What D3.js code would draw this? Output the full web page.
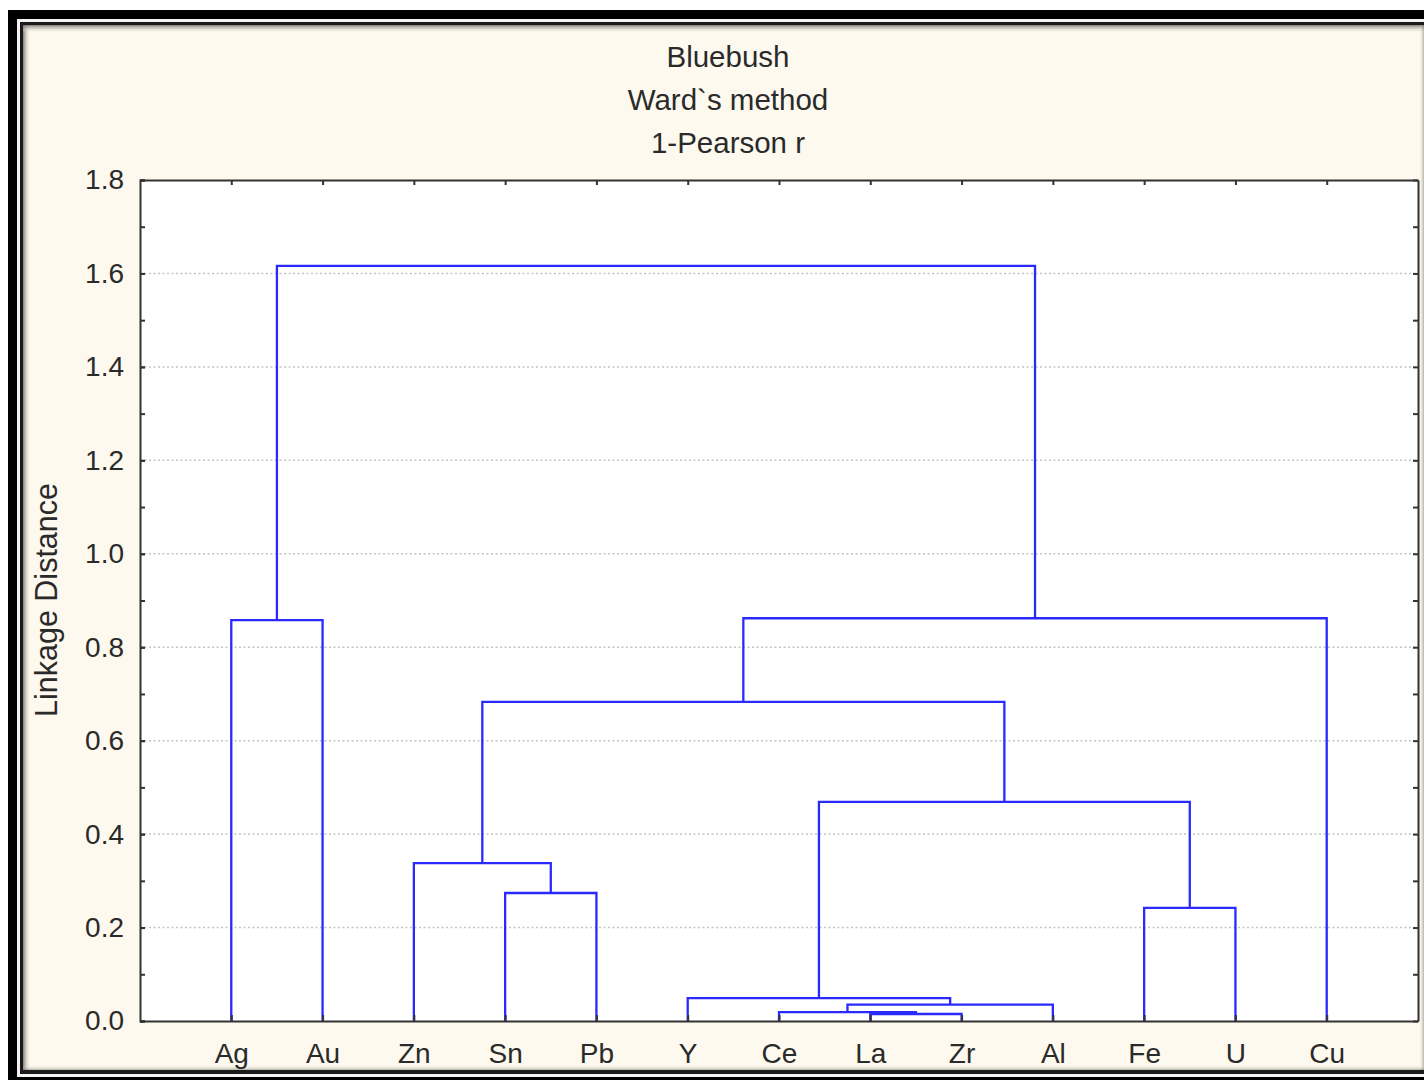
<!DOCTYPE html>
<html>
<head>
<meta charset="utf-8">
<script src="https://cdn.jsdelivr.net/npm/d3@7"></script>
<style>
  html, body { margin: 0; padding: 0; background: #ffffff; }
  svg { display: block; }
  text { font-family: "Liberation Sans", Arial, sans-serif; fill: #2a2a2a; }
</style>
</head>
<body>
<svg id="chart" width="1424" height="1080"></svg>
<script>
// Leaves of the tree, in display order
const leaves = ["Ag", "Au", "Zn", "Sn", "Pb", "Y", "Ce", "La", "Zr", "Al", "Fe", "U", "Cu"];

// Agglomeration steps: [left node, right node, linkage distance].
// Indices 0..12 are leaves; each step creates node 13, 14, ... in turn.
const mergeLeft   = [7, 6, 14, 5, 10, 3, 2, 16, 19, 0, 21, 22];
const mergeRight  = [8, 13, 9, 15, 11, 4, 18, 17, 20, 1, 12, 23];
const mergeHeight = [0.015, 0.019, 0.035, 0.049, 0.242, 0.274, 0.338, 0.469, 0.683, 0.858, 0.862, 1.616];

const titleLines = ["Bluebush", "Ward`s method", "1-Pearson r"];
const yTicks = [0.0, 0.2, 0.4, 0.6, 0.8, 1.0, 1.2, 1.4, 1.6, 1.8];
const yMinorTicks = d3.range(0, 19).map(i => i / 10);
const yLabel = "Linkage Distance";

const W = 1424, H = 1080;
const plot = { left: 140, right: 1418, top: 180, bottom: 1021 };

const svg = d3.select("#chart");
const defs = svg.append("defs");

// ---- window frame -------------------------------------------------------
svg.append("rect").attr("x", 8).attr("y", 10).attr("width", W + 20).attr("height", H + 20)
  .attr("fill", "#000");
svg.append("rect").attr("x", 17).attr("y", 19).attr("width", W).attr("height", 1058)
  .attr("fill", "#f2f2f2");
svg.append("rect").attr("x", 20).attr("y", 22).attr("width", W).attr("height", 1052)
  .attr("fill", "#1a1a1a");
const cream = "#fdf9ee";
svg.append("rect").attr("x", 23).attr("y", 25).attr("width", W).attr("height", 1045)
  .attr("fill", cream);

// soft inset shadow along the panel edges
function shadowGrad(id, x1, y1, x2, y2, op) {
  const g = defs.append("linearGradient").attr("id", id)
    .attr("x1", x1).attr("y1", y1).attr("x2", x2).attr("y2", y2);
  g.append("stop").attr("offset", 0).attr("stop-color", "#6a6a66").attr("stop-opacity", op);
  g.append("stop").attr("offset", 1).attr("stop-color", cream).attr("stop-opacity", 0);
}
shadowGrad("shL", 0, 0, 1, 0, 0.85);
shadowGrad("shT", 0, 0, 0, 1, 0.85);
shadowGrad("shR", 1, 0, 0, 0, 0.5);
shadowGrad("shB", 0, 1, 0, 0, 0.5);
svg.append("rect").attr("x", 23).attr("y", 25).attr("width", 8).attr("height", 1045).attr("fill", "url(#shL)");
svg.append("rect").attr("x", 23).attr("y", 25).attr("width", W).attr("height", 8).attr("fill", "url(#shT)");
svg.append("rect").attr("x", 1419).attr("y", 25).attr("width", 5).attr("height", 1045).attr("fill", "url(#shR)");
svg.append("rect").attr("x", 23).attr("y", 1065).attr("width", W).attr("height", 5).attr("fill", "url(#shB)");

// ---- scales -------------------------------------------------------------
const x = d3.scalePoint().domain(leaves).range([plot.left, plot.right]).padding(1);
const y = d3.scaleLinear().domain([0, 1.8]).range([plot.bottom, plot.top]);

// plot background
svg.append("rect")
  .attr("x", plot.left).attr("y", plot.top)
  .attr("width", plot.right - plot.left).attr("height", plot.bottom - plot.top)
  .attr("fill", "#ffffff");

// dotted grid lines
svg.append("g").selectAll("line")
  .data(yTicks.filter(v => v > 0 && v < 1.8))
  .join("line")
  .attr("x1", plot.left).attr("x2", plot.right)
  .attr("y1", d => y(d)).attr("y2", d => y(d))
  .attr("stroke", "#c4c4c4").attr("stroke-width", 1.5)
  .attr("stroke-dasharray", "2,2.5");

// ---- dendrogram ---------------------------------------------------------
const nodes = leaves.map(name => ({ x: x(name), h: 0 }));
const links = [];
mergeHeight.forEach((h, i) => {
  const a = nodes[mergeLeft[i]], b = nodes[mergeRight[i]];
  links.push({ a, b, h });
  nodes.push({ x: (a.x + b.x) / 2, h });
});

svg.append("g")
  .selectAll("path")
  .data(links)
  .join("path")
  .attr("d", d =>
    `M${d.a.x},${y(d.a.h)}V${y(d.h)}H${d.b.x}V${y(d.b.h)}`)
  .attr("fill", "none")
  .attr("stroke", "#2a2aff")
  .attr("stroke-width", 2.3)
  .attr("stroke-linejoin", "miter");

// ---- axes ---------------------------------------------------------------
const tickFmt = d3.format(".1f");

// left axis: labels at major ticks, small inward ticks every 0.1
svg.append("g").attr("transform", `translate(${plot.left},0)`)
  .call(d3.axisLeft(y).tickValues(yTicks).tickFormat(tickFmt).tickSize(-5).tickPadding(16));
svg.append("g").attr("transform", `translate(${plot.left},0)`)
  .call(d3.axisLeft(y).tickValues(yMinorTicks).tickFormat("").tickSize(-5).tickSizeOuter(0))
  .call(g => g.select(".domain").remove());

// right axis: inward ticks only
svg.append("g").attr("transform", `translate(${plot.right},0)`)
  .call(d3.axisRight(y).tickValues(yMinorTicks).tickFormat("").tickSize(-5).tickSizeOuter(0));

// bottom axis with element labels, ticks pointing up
const bottomAxis = svg.append("g").attr("transform", `translate(0,${plot.bottom})`)
  .call(d3.axisBottom(x).tickSize(-6).tickSizeOuter(0).tickPadding(22));

// top axis: inward ticks only
svg.append("g").attr("transform", `translate(0,${plot.top})`)
  .call(d3.axisTop(x).tickFormat("").tickSize(-5).tickSizeOuter(0));

svg.selectAll(".domain").attr("stroke", "#333").attr("stroke-width", 2);
svg.selectAll(".tick line").attr("stroke", "#333").attr("stroke-width", 2);
svg.selectAll(".tick text")
  .style("font-family", '"Liberation Sans", Arial, sans-serif')
  .style("font-size", "28px").attr("fill", "#2a2a2a");

// keep the leaf tick marks above the blue lines
bottomAxis.raise();

// ---- titles -------------------------------------------------------------
svg.append("g").selectAll("text")
  .data(titleLines)
  .join("text")
  .attr("x", 728)
  .attr("y", (d, i) => 67 + i * 43)
  .attr("text-anchor", "middle")
  .style("font-size", "29.5px")
  .text(d => d);

svg.append("text")
  .attr("transform", `translate(57,600) rotate(-90)`)
  .attr("text-anchor", "middle")
  .style("font-size", "30.5px")
  .text(yLabel);
</script>
</body>
</html>
